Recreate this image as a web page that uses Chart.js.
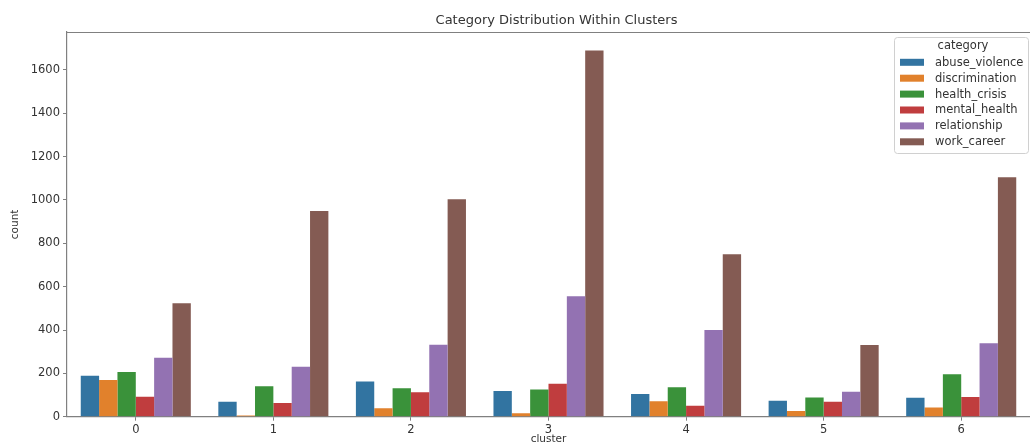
<!DOCTYPE html>
<html><head><meta charset="utf-8">
<script src="https://cdn.jsdelivr.net/npm/chart.js@4/dist/chart.umd.min.js"></script>
<style>html,body{margin:0;padding:0;background:#fff;overflow:hidden;} canvas{display:block;}</style>
</head><body>
<canvas id="c" width="1030" height="447"></canvas>
<script>
const clusters = ['0','1','2','3','4','5','6'];
const categories = ['abuse_violence','discrimination','health_crisis','mental_health','relationship','work_career'];
const abuse_violence = [189, 69, 162, 119, 105, 74, 88];
const discrimination = [169, 5, 39, 16, 71, 26, 42];
const health_crisis  = [206, 140, 131, 125, 136, 89, 196];
const mental_health  = [92, 63, 113, 152, 51, 69, 91];
const relationship   = [272, 231, 332, 556, 400, 115, 339];
const work_career    = [523, 949, 1003, 1690, 749, 331, 1105];
const yTicks = [0, 200, 400, 600, 800, 1000, 1200, 1400, 1600];
const seriesValues = [abuse_violence, discrimination, health_crisis, mental_health, relationship, work_career];
const colors = ['#3274a1','#e1812c','#3a923a','#c03d3e','#9372b2','#845b53'];
const chartTitle = 'Category Distribution Within Clusters';
const legendTitle = 'category';
const xTitle = 'cluster';
const yTitle = 'count';

const FONT = "'DejaVu Sans', sans-serif";
const AXIS = '#808080';
const TXT = '#333333';

const overlay = {
  id: 'overlay',
  afterDraw(chart) {
    const ctx = chart.ctx, a = chart.chartArea;
    ctx.save();
    ctx.strokeStyle = AXIS; ctx.lineWidth = 1.2;
    ctx.beginPath(); ctx.moveTo(a.left, a.top + 0.5); ctx.lineTo(a.right, a.top + 0.5); ctx.stroke();
    ctx.fillStyle = TXT; ctx.font = '13px ' + FONT;
    ctx.textAlign = 'center'; ctx.textBaseline = 'middle';
    ctx.fillText(chartTitle, (a.left + a.right) / 2 + 8, 21);
    const bx = 894, by = 37, bw = 134, bh = 116;
    ctx.fillStyle = 'rgba(255,255,255,0.85)';
    ctx.strokeStyle = '#d0d0d0'; ctx.lineWidth = 1;
    ctx.beginPath();
    if (ctx.roundRect) ctx.roundRect(bx + 0.5, by + 0.5, bw, bh, 3); else ctx.rect(bx + 0.5, by + 0.5, bw, bh);
    ctx.fill(); ctx.stroke();
    ctx.font = '11.5px ' + FONT; ctx.fillStyle = TXT;
    ctx.textAlign = 'center';
    ctx.fillText(legendTitle, 963, 46.5);
    ctx.textAlign = 'left';
    chart.data.datasets.forEach((ds, i) => {
      const y = 62.3 + i * 15.9;
      ctx.fillStyle = ds.backgroundColor;
      ctx.fillRect(900, y - 3.5, 24, 7);
      ctx.fillStyle = TXT;
      ctx.fillText(ds.label, 935, y + 0.5);
    });
    ctx.restore();
  }
};

new Chart(document.getElementById('c'), {
  type: 'bar',
  data: {
    labels: clusters,
    datasets: categories.map((c, i) => ({
      label: c,
      data: seriesValues[i],
      backgroundColor: colors[i],
      borderWidth: 0,
      categoryPercentage: 0.8,
      barPercentage: 1.0
    }))
  },
  options: {
    responsive: false,
    animation: false,
    devicePixelRatio: 1,
    layout: { padding: { top: 32, left: 0, right: -2, bottom: 0 } },
    plugins: { legend: { display: false }, title: { display: false }, tooltip: { enabled: false } },
    scales: {
      x: {
        offset: true,
        grid: { display: true, offset: false, drawOnChartArea: false, drawTicks: true, tickLength: 4, color: AXIS, lineWidth: 1 },
        border: { display: true, color: AXIS, width: 1.2 },
        ticks: { color: TXT, font: { family: FONT, size: 11.5 }, padding: 2, maxRotation: 0 },
        title: { display: true, text: xTitle, color: TXT, font: { family: FONT, size: 10.5 }, padding: { top: 0, bottom: 1 } },
        afterFit(s) { s.height = 30.3; }
      },
      y: {
        min: 0, max: 1775,
        afterBuildTicks(s) { s.ticks = yTicks.map(v => ({ value: v })); },
        grid: { display: true, drawOnChartArea: false, drawTicks: true, tickLength: 4, color: AXIS, lineWidth: 1 },
        border: { display: true, color: AXIS, width: 1.2 },
        ticks: { color: TXT, font: { family: FONT, size: 11.5 }, padding: 3, callback: v => String(v) },
        title: { display: true, text: yTitle, color: TXT, font: { family: FONT, size: 10.5 }, padding: { top: 9, bottom: 0 } },
        afterFit(s) { s.width = 67; }
      }
    }
  },
  plugins: [overlay]
});
</script>
</body></html>
